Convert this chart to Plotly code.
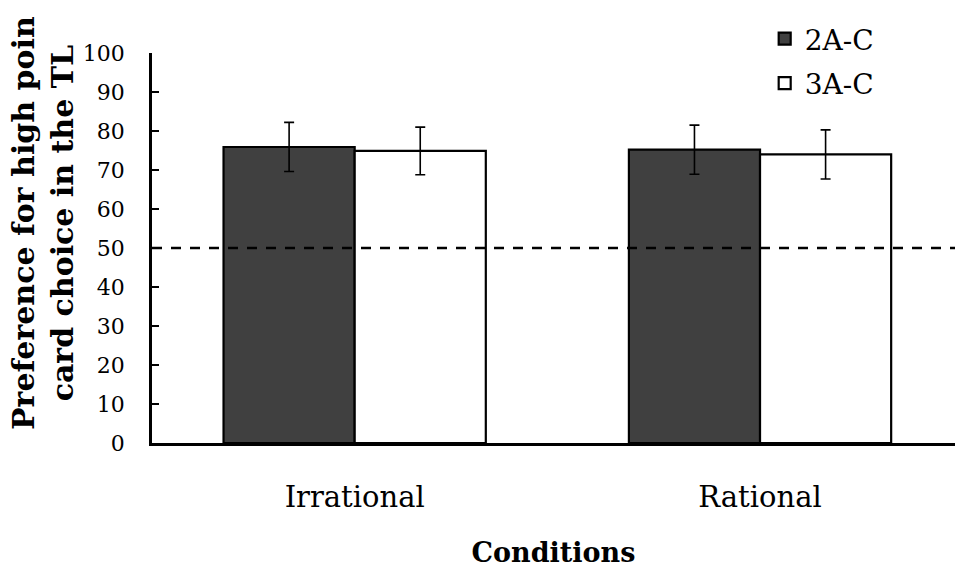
import plotly.graph_objects as go

# Preference data (mean % and error) per condition and group
conditions = ["Irrational", "Rational"]
groups = ["2A-C", "3A-C"]
means_2ac = [75.9, 75.2]
errs_2ac = [6.3, 6.3]
means_3ac = [74.9, 74.0]
errs_3ac = [6.1, 6.3]
y_ticks = [0, 10, 20, 30, 40, 50, 60, 70, 80, 90, 100]
chance_level = 50

serif = "DejaVu Serif"
x_pos = list(range(len(conditions)))

fig = go.Figure()
fig.add_trace(go.Bar(
    x=x_pos, y=means_2ac, name=groups[0], legendgroup="a",
    marker=dict(color="#404040", line=dict(color="black", width=2.2)),
    error_y=dict(type="data", array=errs_2ac, color="black", thickness=1.6, width=5),
))
fig.add_trace(go.Bar(
    x=x_pos, y=means_3ac, name=groups[1], legendgroup="b",
    marker=dict(color="white", line=dict(color="black", width=2.2)),
    error_y=dict(type="data", array=errs_3ac, color="black", thickness=1.6, width=5),
))

# chance-level reference line
fig.add_shape(type="line", xref="paper", x0=0, x1=1, y0=chance_level, y1=chance_level,
              line=dict(color="black", width=2.5, dash="10px,9px"), layer="above")

# two-line y-axis title
fig.add_annotation(
    text="<b>Preference for high poin<br>card choice in the TL</b>",
    textangle=-90, xref="paper", yref="paper", x=-0.088, y=0.565,
    xanchor="right", yanchor="middle", showarrow=False,
    font=dict(family=serif, size=30, color="black"), align="center",
)

fig.update_layout(
    width=955, height=568,
    margin=dict(l=152, r=0, t=53, b=125),
    paper_bgcolor="white", plot_bgcolor="white",
    barmode="group", bargap=0.353, bargroupgap=0,
    font=dict(family=serif, color="black"),
    showlegend=True,
    legend=dict(x=0.763, y=1.1, xanchor="left", yanchor="top",
                font=dict(family=serif, size=28, color="black"),
                bgcolor="rgba(0,0,0,0)", traceorder="grouped", tracegroupgap=5,
                itemwidth=30),
    xaxis=dict(
        range=[-0.5, 1.481], tickmode="array", tickvals=x_pos, ticktext=conditions,
        showline=True, linecolor="black", linewidth=2.5, ticks="", showgrid=False,
        zeroline=False, tickfont=dict(family=serif, size=29), ticklabelstandoff=26,
        automargin=False,
        title=dict(text="<b>Conditions</b>", font=dict(family=serif, size=27), standoff=40),
    ),
    yaxis=dict(
        range=[0, 100], tickmode="array", tickvals=y_ticks, automargin=False,
        showline=True, linecolor="black", linewidth=2.5, ticks="inside", ticklen=7,
        tickwidth=2, tickcolor="black", showgrid=False, zeroline=False,
        tickfont=dict(family=serif, size=22), ticklabelstandoff=20,
    ),
)

fig.write_html("out.html")
